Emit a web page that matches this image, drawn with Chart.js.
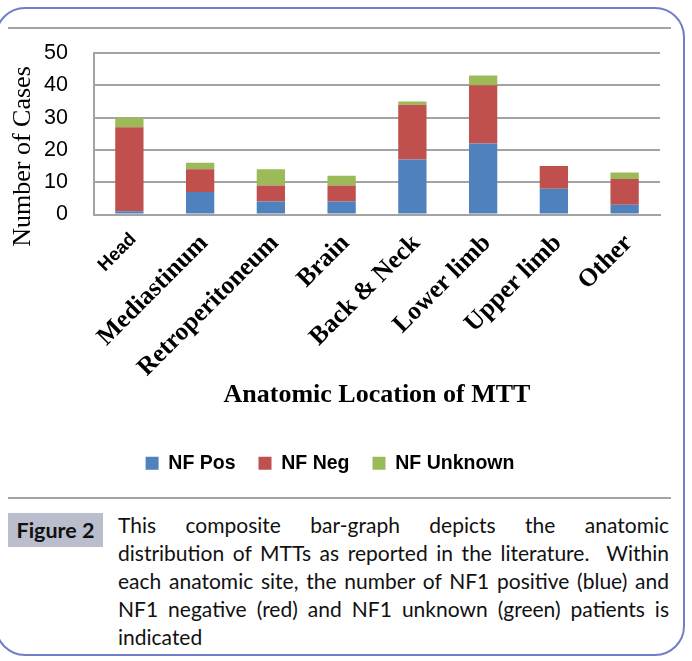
<!DOCTYPE html>
<html>
<head>
<meta charset="utf-8">
<script src="https://cdn.jsdelivr.net/npm/chart.js@4.4.1/dist/chart.umd.min.js"></script>
<style>
  html, body { margin: 0; padding: 0; background: #fff; }
  body { width: 692px; height: 661px; position: relative; overflow: hidden; }
  #frame { position: absolute; left: -5px; top: 7px; width: 690px; height: 649px;
           border: 2px solid #6f7ec6; border-radius: 30px; box-sizing: border-box; }
  .rule { position: absolute; left: 8px; width: 663px; height: 0; border-top: 2px solid #a3a3a3; }
  #wrap { position: absolute; left: 0; top: 0; width: 692px; height: 495px; }
  #figlabel { position: absolute; left: 8px; top: 513px; width: 95px; height: 34px;
              background: #b9bdcc; font-family: Lato, "Open Sans", sans-serif; font-weight: bold;
              font-size: 21.5px; line-height: 34px; text-align: center; color: #111; }
  #caption { position: absolute; left: 118px; top: 511px; width: 551px;
             font-family: Lato, "Open Sans", sans-serif; font-size: 21px; line-height: 28px; color: #111; }
  #caption div { text-align: justify; text-align-last: justify; white-space: nowrap; }
  #caption div.last { text-align-last: left; }
</style>
</head>
<body>
<div id="frame"></div>
<div class="rule" style="top:27px"></div>
<div id="wrap"><canvas id="c"></canvas></div>
<div class="rule" style="top:497px"></div>
<div id="figlabel">Figure 2</div>
<div id="caption">
  <div>This composite bar-graph depicts the anatomic</div>
  <div>distribution of MTTs as reported in the literature.&nbsp; Within</div>
  <div>each anatomic site, the number of NF1 positive (blue) and</div>
  <div>NF1 negative (red) and NF1 unknown (green) patients is</div>
  <div class="last">indicated</div>
</div>
<script>
const categories = ["Head", "Mediastinum", "Retroperitoneum", "Brain", "Back & Neck", "Lower limb", "Upper limb", "Other"];
const nfPos = [1, 7, 4, 4, 17, 22, 8, 3];
const nfNeg = [26, 7, 5, 5, 17, 18, 7, 8];
const nfUnknown = [3, 2, 5, 3, 1, 3, 0, 2];
const seriesNames = ["NF Pos", "NF Neg", "NF Unknown"];
const yTicks = [0, 10, 20, 30, 40, 50];

const serif = "'Liberation Serif', 'Times New Roman', serif";
const sans = "'Liberation Sans', Arial, sans-serif";

new Chart(document.getElementById('c'), {
  type: 'bar',
  data: {
    labels: categories,
    datasets: [
      { label: seriesNames[0], data: nfPos, backgroundColor: '#4f81bd' },
      { label: seriesNames[1], data: nfNeg, backgroundColor: '#c0504d' },
      { label: seriesNames[2], data: nfUnknown, backgroundColor: '#9bbb59' }
    ]
  },
  options: {
    responsive: true,
    maintainAspectRatio: false,
    animation: false,
    datasets: { bar: { barPercentage: 0.5, categoryPercentage: 0.8, borderWidth: 0 } },
    layout: { padding: { top: 53, left: 0, right: 32, bottom: 12 } },
    plugins: {
      tooltip: { enabled: false },
      legend: {
        position: 'bottom',
        labels: {
          boxWidth: 13, boxHeight: 13, padding: 23, color: '#000',
          font: { family: sans, size: 19.5, weight: 'bold' }
        }
      }
    },
    scales: {
      x: {
        stacked: true,
        grid: { display: false },
        border: { display: true, color: '#a3a3a3', width: 2 },
        ticks: {
          autoSkip: false, minRotation: 45, maxRotation: 45, padding: 6, labelOffset: 4, color: '#000',
          font: (ctx) => ctx.index === 0
            ? { family: sans, size: 18.5, weight: 'bold' }
            : { family: serif, size: 25.5, weight: 'bold' }
        },
        title: {
          display: true, text: 'Anatomic Location of MTT', color: '#000',
          font: { family: serif, size: 26, weight: 'bold' },
          padding: { top: 0, bottom: 20 }
        },
        afterFit: (s) => { s.height = 216; }
      },
      y: {
        stacked: true,
        min: 0, max: 50,
        afterBuildTicks: (s) => { s.ticks = yTicks.map(v => ({ value: v })); },
        grid: { color: '#a3a3a3', lineWidth: 2, drawTicks: false },
        border: { display: true, color: '#a3a3a3', width: 2 },
        ticks: { padding: 26, color: '#000', font: { family: sans, size: 21.5 } },
        title: {
          display: true, text: 'Number of Cases       ', color: '#000',
          font: { family: serif, size: 26 },
          padding: { top: 8, bottom: 0 }
        },
        afterFit: (s) => { s.width = 94; }
      }
    }
  }
});
</script>
</body>
</html>
